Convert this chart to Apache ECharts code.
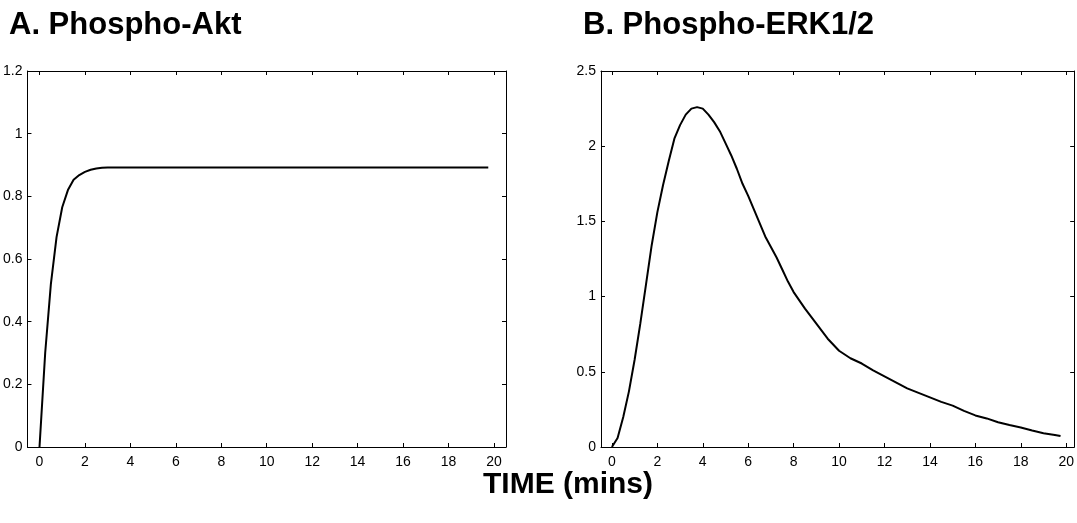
<!DOCTYPE html>
<html>
<head>
<meta charset="utf-8">
<script src="https://cdn.jsdelivr.net/npm/echarts@6/dist/echarts.min.js"></script>
<style>
html,body{margin:0;padding:0;background:#fff;}
#chart{width:1077px;height:523px;}
</style>
</head>
<body>
<div id="chart"></div>
<script>
// ---- data ----
const titleA = "A. Phospho-Akt";
const titleB = "B. Phospho-ERK1/2";
const xTitle = "TIME (mins)";
const xTicks = [0, 2, 4, 6, 8, 10, 12, 14, 16, 18, 20];

const aktTime = [0, 0.25, 0.5, 0.75, 1.0, 1.25, 1.5, 1.75, 2.0, 2.25, 2.5, 2.75, 3.0, 19.75];
const aktValue = [0, 0.30, 0.52, 0.67, 0.765, 0.82, 0.853, 0.868, 0.878, 0.885, 0.889, 0.891, 0.892, 0.892];

const erkTime = [0, 0.25, 0.5, 0.75, 1.0, 1.25, 1.5, 1.75, 2.0, 2.25, 2.5, 2.75, 3.0, 3.25, 3.5, 3.75,
  4.0, 4.25, 4.5, 4.75, 5.0, 5.25, 5.5, 5.75, 6.0, 6.25, 6.5, 6.75, 7.0, 7.25, 7.5, 7.75,
  8.0, 8.5, 9.0, 9.5, 10.0, 10.5, 11.0, 11.5, 12.0, 12.5, 13.0, 13.5, 14.0, 14.5, 15.0,
  15.5, 16.0, 16.5, 17.0, 17.5, 18.0, 18.5, 19.0, 19.5, 19.75];
const erkValue = [0, 0.06, 0.20, 0.37, 0.58, 0.82, 1.08, 1.34, 1.56, 1.74, 1.90, 2.05, 2.14, 2.21, 2.25, 2.26,
  2.25, 2.21, 2.16, 2.10, 2.02, 1.94, 1.85, 1.75, 1.67, 1.58, 1.49, 1.40, 1.33, 1.26, 1.18, 1.10,
  1.03, 0.92, 0.82, 0.72, 0.64, 0.59, 0.555, 0.51, 0.47, 0.43, 0.39, 0.36, 0.33, 0.30, 0.275,
  0.24, 0.21, 0.19, 0.165, 0.146, 0.13, 0.11, 0.092, 0.08, 0.073];

// ---- chart ----
const FONT = "'Liberation Sans', Arial, sans-serif";
const zip = (a, b) => a.map((v, i) => [v, b[i]]);

function xAx(grid, pos, min, max, labels) {
  return {
    type: 'value', gridIndex: grid, position: pos, min: min, max: max,
    axisLine: {show: true, onZero: false, lineStyle: {color: '#000', width: 1}},
    axisTick: {show: true, inside: true, length: 4, customValues: xTicks, lineStyle: {color: '#000'}},
    axisLabel: {show: labels, customValues: xTicks, color: '#000', fontSize: 14, fontFamily: FONT, margin: 8},
    splitLine: {show: false}
  };
}
function yAx(grid, pos, max, interval, labels) {
  return {
    type: 'value', gridIndex: grid, position: pos, min: 0, max: max, interval: interval,
    axisLine: {show: true, onZero: false, lineStyle: {color: '#000', width: 1}},
    axisTick: {show: true, inside: true, length: 4, lineStyle: {color: '#000'}},
    axisLabel: {show: labels, color: '#000', fontSize: 14, fontFamily: FONT, margin: 5,
      formatter: v => String(+v.toFixed(2))},
    splitLine: {show: false}
  };
}

const chart = echarts.init(document.getElementById('chart'), null, {renderer: 'canvas'});
const tStyle = (s) => ({fontSize: s, fontWeight: 'bold', color: '#000', fontFamily: FONT});
chart.setOption({
  animation: false,
  backgroundColor: '#fff',
  title: [
    {text: titleA, left: 9, top: 10, padding: 0, textStyle: tStyle(31)},
    {text: titleB, left: 583, top: 10, padding: 0, textStyle: tStyle(31)},
    {text: xTitle, left: 483, top: 470, padding: 0, textStyle: tStyle(30)}
  ],
  grid: [
    {left: 27, top: 71, width: 479, height: 376},
    {left: 601, top: 71, width: 474, height: 376}
  ],
  xAxis: [
    xAx(0, 'bottom', -0.53, 20.53, true),
    xAx(0, 'top', -0.53, 20.53, false),
    xAx(1, 'bottom', -0.48, 20.35, true),
    xAx(1, 'top', -0.48, 20.35, false)
  ],
  yAxis: [
    yAx(0, 'left', 1.2, 0.2, true),
    yAx(0, 'right', 1.2, 0.2, false),
    yAx(1, 'left', 2.5, 0.5, true),
    yAx(1, 'right', 2.5, 0.5, false)
  ],
  series: [
    {type: 'line', xAxisIndex: 0, yAxisIndex: 0, data: zip(aktTime, aktValue), showSymbol: false,
      smooth: false, lineStyle: {color: '#000', width: 2}},
    {type: 'line', xAxisIndex: 2, yAxisIndex: 2, data: zip(erkTime, erkValue), showSymbol: false,
      smooth: false, lineStyle: {color: '#000', width: 2}}
  ]
});
</script>
</body>
</html>
